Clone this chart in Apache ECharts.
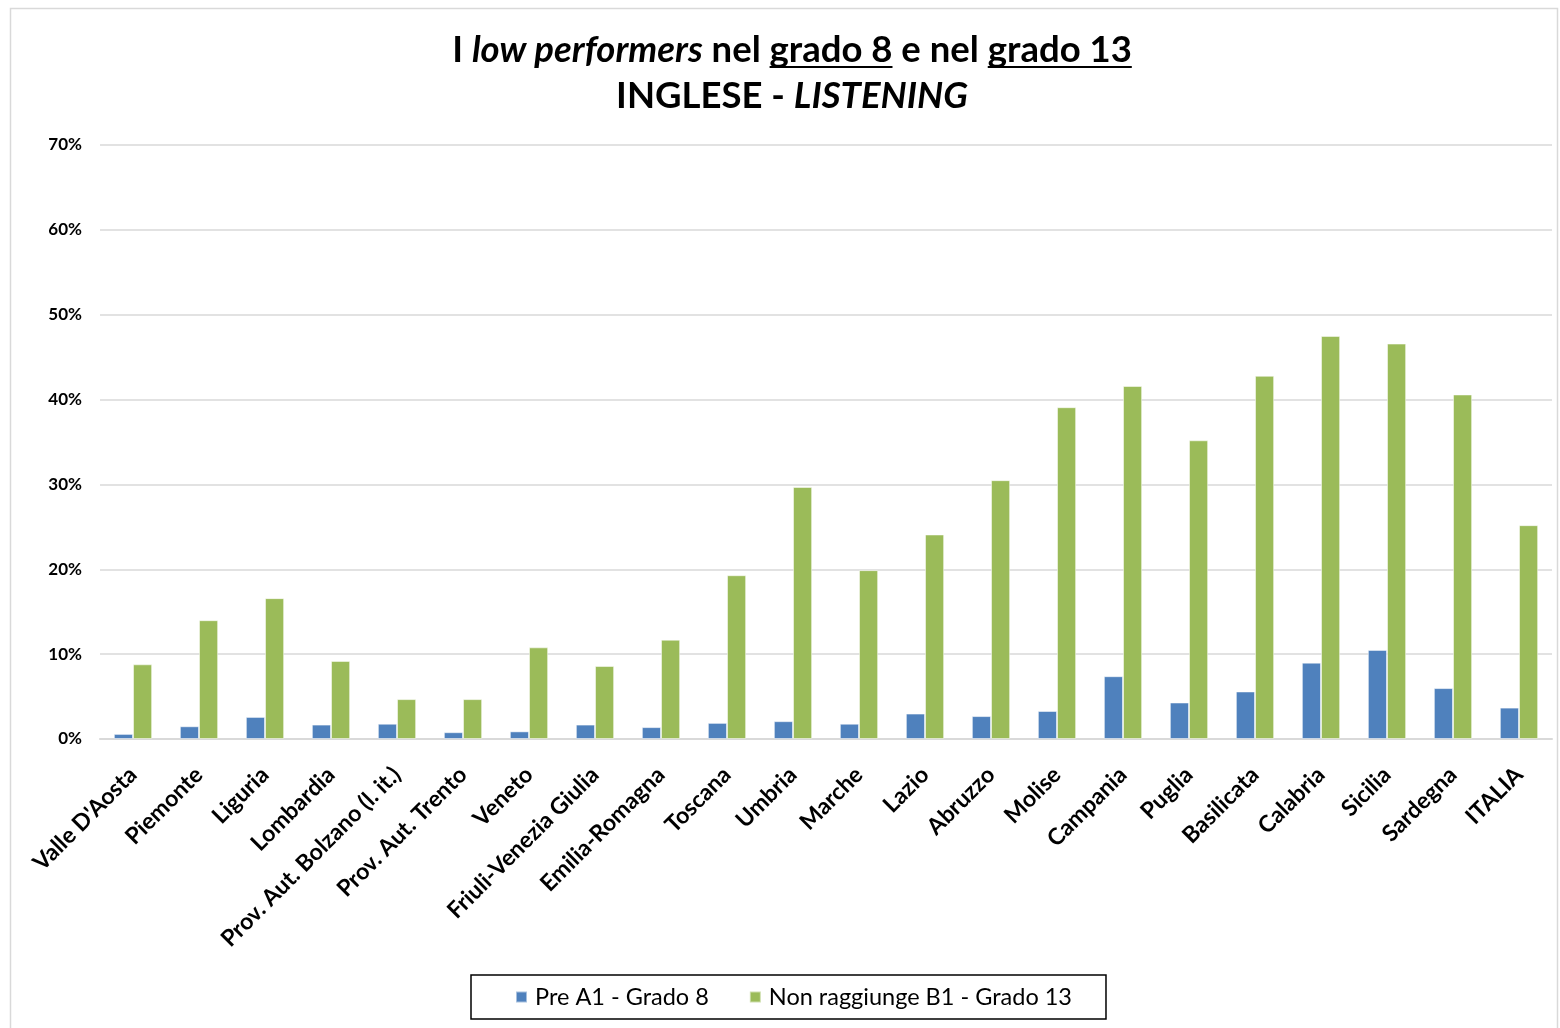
<!DOCTYPE html>
<html>
<head>
<meta charset="utf-8">
<script src="https://cdn.jsdelivr.net/npm/echarts@6/dist/echarts.min.js"></script>
<style>
  html, body { margin: 0; padding: 0; background: #fff; }
  #chart { width: 1560px; height: 1028px; }
</style>
</head>
<body>
<div id="chart"></div>
<script>
  // regioni
  var categories = ["Valle D'Aosta", 'Piemonte', 'Liguria', 'Lombardia', 'Prov. Aut. Bolzano (l. it.)',
    'Prov. Aut. Trento', 'Veneto', 'Friuli-Venezia Giulia', 'Emilia-Romagna', 'Toscana', 'Umbria',
    'Marche', 'Lazio', 'Abruzzo', 'Molise', 'Campania', 'Puglia', 'Basilicata', 'Calabria',
    'Sicilia', 'Sardegna', 'ITALIA']
  // % Pre A1 - Grado 8
  var preA1Grado8 = [0.6, 1.5, 2.6, 1.7, 1.8, 0.8, 0.9, 1.7, 1.4, 1.9, 2.1, 1.8, 3.0, 2.7, 3.3,
    7.4, 4.3, 5.6, 9.0, 10.5, 6.0, 3.7]
  // % Non raggiunge B1 - Grado 13
  var nonB1Grado13 = [8.8, 14.0, 16.6, 9.2, 4.7, 4.7, 10.8, 8.6, 11.7, 19.3, 29.7, 19.9, 24.1,
    30.5, 39.1, 41.6, 35.2, 42.8, 47.5, 46.6, 40.6, 25.2]
  var seriesNames = ['Pre A1 - Grado 8', 'Non raggiunge B1 - Grado 13']
  var yTicks = { min: 0, max: 70, interval: 10 }

  var FONT = 'Lato'
  var titleSize = 36.5

  // misura testo per posizionare le sottolineature del titolo
  var ctx = document.createElement('canvas').getContext('2d')
  function textWidth (txt, italic) {
    ctx.font = (italic ? 'italic ' : '') + 'bold ' + titleSize + 'px ' + FONT
    return ctx.measureText(txt).width
  }

  var titleCenter = 792
  var line1 = [['I ', 'n'], ['low performers', 'i'], [' nel ', 'n'], ['grado 8', 'u'], [' e nel ', 'n'], ['grado 13', 'u']]
  var line2 = [['INGLESE - ', 'n'], ['LISTENING', 'i']]

  function buildLine (parts, y) {
    var total = 0
    parts.forEach(function (p) { total += textWidth(p[0], p[1] === 'i') })
    var x = titleCenter - total / 2
    var els = []
    var rich = ''
    var cur = x
    parts.forEach(function (p) {
      var w = textWidth(p[0], p[1] === 'i')
      rich += '{' + p[1] + '|' + p[0] + '}'
      if (p[1] === 'u') {
        els.push({
          type: 'line',
          shape: { x1: cur, y1: y + 17, x2: cur + w, y2: y + 17 },
          style: { stroke: '#000', lineWidth: 2 }
        })
      }
      cur += w
    })
    var richStyles = {
      n: { font: 'bold ' + titleSize + 'px ' + FONT, fill: '#000' },
      u: { font: 'bold ' + titleSize + 'px ' + FONT, fill: '#000' },
      i: { font: 'italic bold ' + titleSize + 'px ' + FONT, fill: '#000' }
    }
    els.push({
      type: 'text',
      style: { text: rich, rich: richStyles, x: x, y: y, align: 'left', verticalAlign: 'middle', fill: '#000' }
    })
    return els
  }

  var graphics = [{
    type: 'rect',
    shape: { x: 10.5, y: 8.5, width: 1547, height: 1030 },
    style: { fill: 'none', stroke: '#d9d9d9', lineWidth: 1.5 },
    silent: true
  }].concat(buildLine(line1, 50), buildLine(line2, 96))

  var chart = echarts.init(document.getElementById('chart'))
  chart.setOption({
    backgroundColor: '#fff',
    animation: false,
    graphic: graphics,
    grid: { left: 100, right: 8, top: 145, bottom: 289 },
    legend: {
      data: seriesNames,
      left: 471,
      top: 975,
      orient: 'horizontal',
      padding: [10, 34, 10, 44],
      itemGap: 40,
      itemWidth: 11,
      itemHeight: 11,
      icon: 'rect',
      borderColor: '#000',
      borderWidth: 1.5,
      textStyle: { fontFamily: FONT, fontSize: 23.5, color: '#000', padding: [0, 0, 0, 3] }
    },
    xAxis: {
      type: 'category',
      data: categories,
      axisTick: { show: false },
      axisLine: { lineStyle: { color: '#d9d9d9', width: 2 } },
      axisLabel: {
        interval: 0,
        rotate: 45,
        margin: 32,
        fontFamily: FONT,
        fontWeight: 'bold',
        fontSize: 23,
        color: '#000'
      }
    },
    yAxis: {
      type: 'value',
      min: yTicks.min,
      max: yTicks.max,
      interval: yTicks.interval,
      axisLine: { show: false },
      axisTick: { show: false },
      splitLine: { lineStyle: { color: '#d9d9d9', width: 1.5 } },
      axisLabel: {
        formatter: '{value}%',
        margin: 18,
        fontFamily: FONT,
        fontWeight: 'bold',
        fontSize: 17,
        color: '#000'
      }
    },
    series: [
      {
        name: seriesNames[0],
        type: 'bar',
        data: preA1Grado8,
        barGap: '0%',
        barCategoryGap: '42%',
        itemStyle: { color: '#4f81bd', borderColor: 'rgba(255,255,255,0.5)', borderWidth: 1 }
      },
      {
        name: seriesNames[1],
        type: 'bar',
        data: nonB1Grado13,
        barGap: '0%',
        barCategoryGap: '42%',
        itemStyle: { color: '#9bbb59', borderColor: 'rgba(255,255,255,0.5)', borderWidth: 1 }
      }
    ]
  })
</script>
</body>
</html>
